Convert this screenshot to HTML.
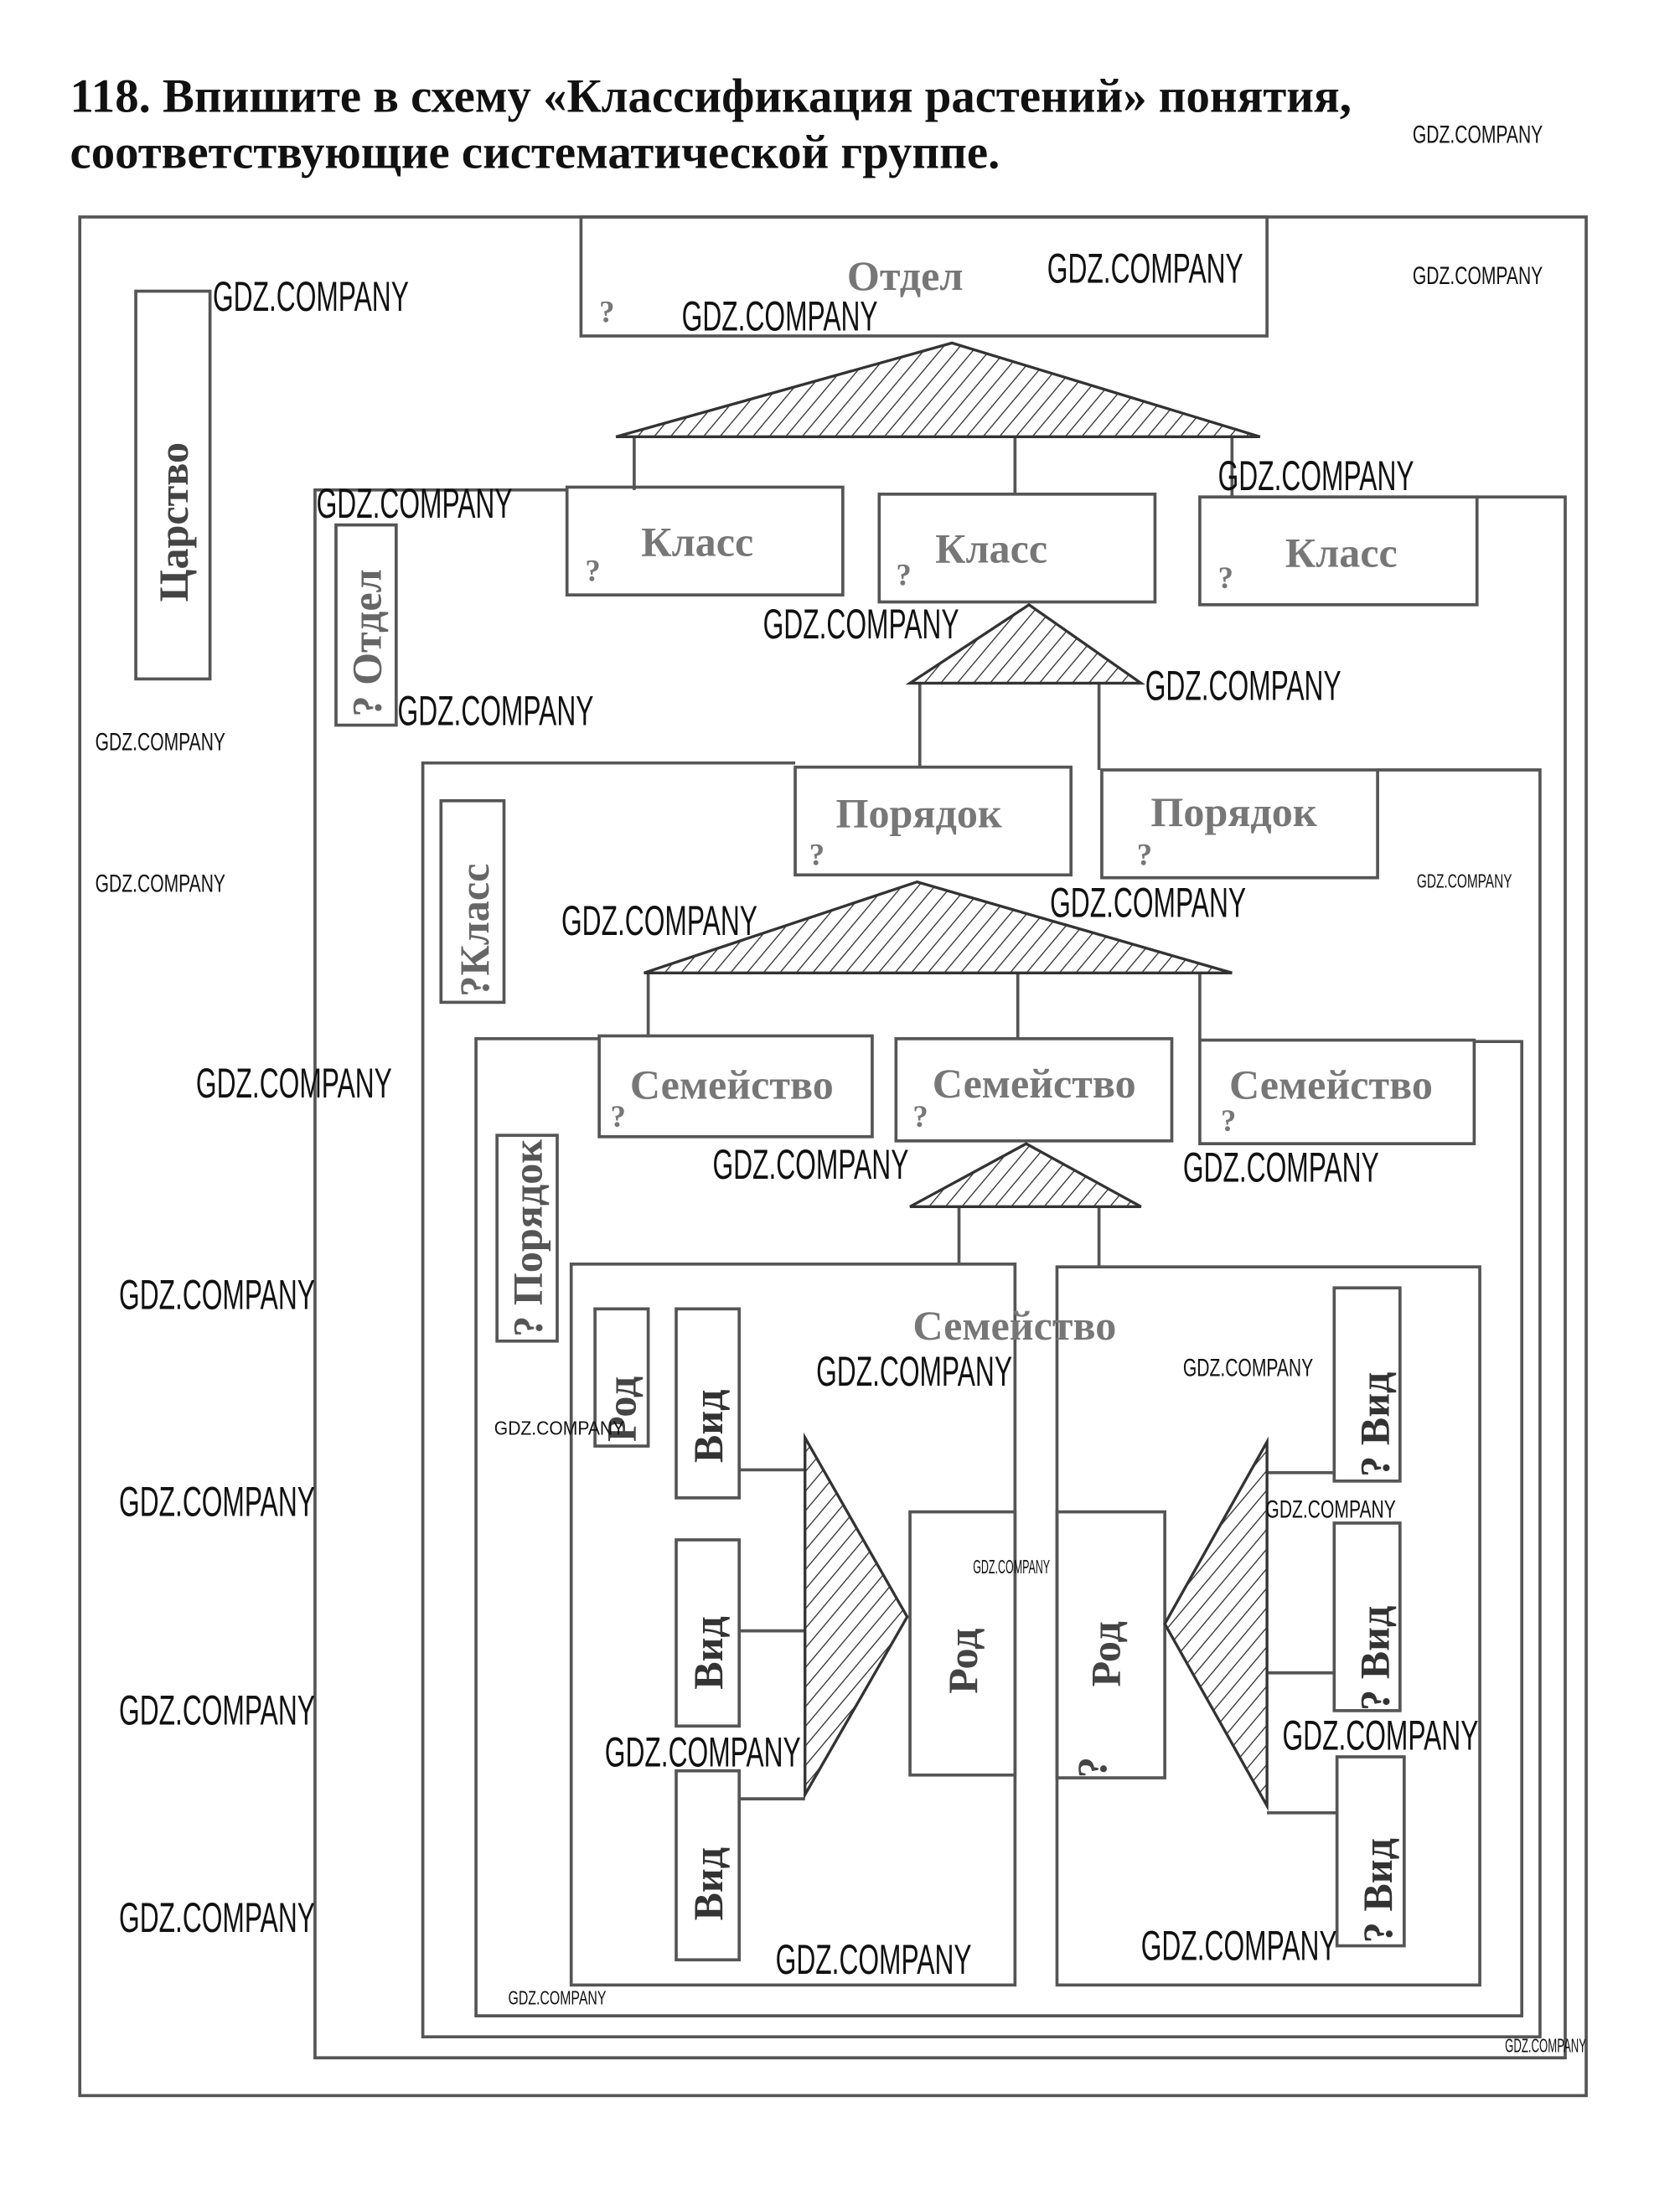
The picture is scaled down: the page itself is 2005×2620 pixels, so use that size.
<!DOCTYPE html>
<html><head><meta charset="utf-8"><style>
html,body{margin:0;padding:0;background:#fff;}
svg{display:block;}
</style></head><body>
<svg width="2005" height="2620" viewBox="0 0 1200 1568" preserveAspectRatio="none" xmlns="http://www.w3.org/2000/svg">
<defs>
<pattern id="h" width="9" height="9" patternUnits="userSpaceOnUse" patternTransform="rotate(40)">
<rect width="9" height="9" fill="#fff"/><line x1="0" y1="0" x2="0" y2="9" stroke="#333" stroke-width="1.6"/>
</pattern>
</defs>
<rect width="1200" height="1568" fill="#fff"/>
<g font-family="'Liberation Serif','Noto Serif CJK SC',serif" font-weight="bold" fill="#111">
<text x="50" y="80" font-size="34">118. Впишите в схему «Классификация растений» понятия,</text>
<text x="50" y="120" font-size="34">соответствующие систематической группе.</text>
</g>
<g fill="none" stroke="#555" stroke-width="2.2">
<!-- outer -->
<rect x="57" y="155" width="1076" height="1342"/>
<!-- second -->
<path d="M405 350 L225 350 L225 1470 L1118 1470 L1118 355 L1055 355"/>
<!-- third -->
<path d="M568 545 L302 545 L302 1455 L1100 1455 L1100 550 L984 550"/>
<!-- fourth -->
<path d="M428 742 L340 742 L340 1440 L1087 1440 L1087 744 L1053 744"/>
<!-- Отдел top -->
<rect x="415" y="155" width="490" height="85"/>
<!-- Класс -->
<rect x="405" y="348" width="197" height="77"/>
<rect x="628" y="353" width="197" height="77"/>
<rect x="857" y="355" width="198" height="77"/>
<rect x="97" y="208" width="53" height="277"/>
<rect x="240" y="375" width="43" height="143"/>
<rect x="568" y="548" width="197" height="77"/>
<rect x="787" y="550" width="197" height="77"/>
<rect x="315" y="572" width="45" height="144"/>
<rect x="428" y="740" width="195" height="72"/>
<rect x="640" y="742" width="197" height="73"/>
<rect x="857" y="743" width="196" height="74"/>
<rect x="355" y="811" width="43" height="147"/>
<rect x="408" y="903" width="317" height="515"/>
<rect x="755" y="905" width="302" height="513"/>
<rect x="425" y="935" width="38" height="98"/>
<rect x="483" y="935" width="45" height="135"/>
<rect x="483" y="1100" width="45" height="133"/>
<rect x="483" y="1265" width="45" height="135"/>
<rect x="650" y="1080" width="75" height="188"/>
<rect x="755" y="1080" width="77" height="190"/>
<rect x="953" y="920" width="47" height="138"/>
<rect x="953" y="1088" width="47" height="134"/>
<rect x="955" y="1255" width="48" height="135"/>
<!-- connectors -->
<path d="M453 312 V350 M725 312 V353 M880 312 V355"/>
<path d="M657 488 V548 M785 488 V550"/>
<path d="M463 695 V740 M727 695 V742 M857 695 V743"/>
<path d="M685 862 V903 M785 862 V905"/>
<path d="M528 1050 H575 M528 1165 H575 M528 1285 H575"/>
<path d="M905 1052 H953 M905 1195 H953 M905 1295 H955"/>
</g>
<g fill="url(#h)" stroke="#333" stroke-width="2">
<polygon points="680,245 440,312 900,312"/>
<polygon points="735,432 650,488 815,488"/>
<polygon points="655,630 460,695 880,695"/>
<polygon points="733,817 650,862 815,862"/>
<polygon points="575,1027 648,1155 575,1282"/>
<polygon points="905,1030 832,1160 905,1290"/>
</g>
<g font-family="'Liberation Serif','Noto Serif CJK SC',serif" font-weight="bold" fill="#777" font-size="30">
<text x="605" y="207">Отдел</text>
<text x="458" y="397">Класс</text>
<text x="668" y="402">Класс</text>
<text x="918" y="405">Класс</text>
<text x="597" y="591">Порядок</text>
<text x="822" y="590">Порядок</text>
<text x="450" y="785">Семейство</text>
<text x="666" y="784">Семейство</text>
<text x="878" y="785">Семейство</text>
<text x="652" y="957">Семейство</text>
<g font-size="22"><text x="428" y="230">?</text><text x="418" y="415">?</text><text x="640" y="418">?</text><text x="870" y="420">?</text><text x="578" y="618">?</text><text x="812" y="618">?</text><text x="436" y="805">?</text><text x="652" y="805">?</text><text x="872" y="808">?</text></g>
</g>
<g font-family="'Liberation Serif','Noto Serif CJK SC',serif" font-weight="bold" font-size="30">
<text transform="translate(134,430) rotate(-90)" fill="#444">Царство</text>
<text transform="translate(272,512) rotate(-90)" fill="#666">? Отдел</text>
<text transform="translate(349,712) rotate(-90)" fill="#666">?Класс</text>
<text transform="translate(387,955) rotate(-90)" fill="#555">? Порядок</text>
<text transform="translate(454,1030) rotate(-90)" fill="#444">Род</text>
<text transform="translate(516,1045) rotate(-90)" fill="#333">Вид</text>
<text transform="translate(516,1207) rotate(-90)" fill="#333">Вид</text>
<text transform="translate(516,1372) rotate(-90)" fill="#333">Вид</text>
<text transform="translate(698,1210) rotate(-90)" fill="#444">Род</text>
<text transform="translate(800,1205) rotate(-90)" fill="#444">Род</text>
<text transform="translate(790,1270) rotate(-90)" fill="#444">?</text>
<text transform="translate(992,1055) rotate(-90)" fill="#333">? Вид</text>
<text transform="translate(992,1222) rotate(-90)" fill="#333">? Вид</text>
<text transform="translate(994,1388) rotate(-90)" fill="#333">? Вид</text>
</g>
<g font-family="'Liberation Sans',sans-serif" fill="#111" font-size="30" lengthAdjust="spacingAndGlyphs">
<text x="152" y="222" textLength="140" lengthAdjust="spacingAndGlyphs">GDZ.COMPANY</text>
<text x="748" y="202" textLength="140" lengthAdjust="spacingAndGlyphs">GDZ.COMPANY</text>
<text x="487" y="236" textLength="140" lengthAdjust="spacingAndGlyphs">GDZ.COMPANY</text>
<text x="870" y="350" textLength="140" lengthAdjust="spacingAndGlyphs">GDZ.COMPANY</text>
<text x="226" y="370" textLength="140" lengthAdjust="spacingAndGlyphs">GDZ.COMPANY</text>
<text x="545" y="456" textLength="140" lengthAdjust="spacingAndGlyphs">GDZ.COMPANY</text>
<text x="818" y="500" textLength="140" lengthAdjust="spacingAndGlyphs">GDZ.COMPANY</text>
<text x="284" y="518" textLength="140" lengthAdjust="spacingAndGlyphs">GDZ.COMPANY</text>
<text x="401" y="668" textLength="140" lengthAdjust="spacingAndGlyphs">GDZ.COMPANY</text>
<text x="750" y="655" textLength="140" lengthAdjust="spacingAndGlyphs">GDZ.COMPANY</text>
<text x="140" y="784" textLength="140" lengthAdjust="spacingAndGlyphs">GDZ.COMPANY</text>
<text x="509" y="842" textLength="140" lengthAdjust="spacingAndGlyphs">GDZ.COMPANY</text>
<text x="845" y="844" textLength="140" lengthAdjust="spacingAndGlyphs">GDZ.COMPANY</text>
<text x="85" y="935" textLength="140" lengthAdjust="spacingAndGlyphs">GDZ.COMPANY</text>
<text x="583" y="990" textLength="140" lengthAdjust="spacingAndGlyphs">GDZ.COMPANY</text>
<text x="85" y="1083" textLength="140" lengthAdjust="spacingAndGlyphs">GDZ.COMPANY</text>
<text x="85" y="1232" textLength="140" lengthAdjust="spacingAndGlyphs">GDZ.COMPANY</text>
<text x="432" y="1262" textLength="140" lengthAdjust="spacingAndGlyphs">GDZ.COMPANY</text>
<text x="916" y="1250" textLength="140" lengthAdjust="spacingAndGlyphs">GDZ.COMPANY</text>
<text x="85" y="1380" textLength="140" lengthAdjust="spacingAndGlyphs">GDZ.COMPANY</text>
<text x="815" y="1400" textLength="140" lengthAdjust="spacingAndGlyphs">GDZ.COMPANY</text>
<text x="554" y="1410" textLength="140" lengthAdjust="spacingAndGlyphs">GDZ.COMPANY</text>
<g font-size="18">
<text x="1009" y="102" textLength="93" lengthAdjust="spacingAndGlyphs">GDZ.COMPANY</text>
<text x="1009" y="203" textLength="93" lengthAdjust="spacingAndGlyphs">GDZ.COMPANY</text>
<text x="68" y="536" textLength="93" lengthAdjust="spacingAndGlyphs">GDZ.COMPANY</text>
<text x="68" y="637" textLength="93" lengthAdjust="spacingAndGlyphs">GDZ.COMPANY</text>
<text x="845" y="983" textLength="93" lengthAdjust="spacingAndGlyphs">GDZ.COMPANY</text>
<text x="904" y="1084" textLength="93" lengthAdjust="spacingAndGlyphs">GDZ.COMPANY</text>
</g>
<g font-size="14">
<text x="353" y="1025" textLength="93" lengthAdjust="spacingAndGlyphs">GDZ.COMPANY</text>
<text x="1012" y="634" textLength="68" lengthAdjust="spacingAndGlyphs">GDZ.COMPANY</text>
<text x="695" y="1124" textLength="55" lengthAdjust="spacingAndGlyphs">GDZ.COMPANY</text>
<text x="363" y="1432" textLength="70" lengthAdjust="spacingAndGlyphs">GDZ.COMPANY</text>
<text x="1075" y="1466" textLength="58" lengthAdjust="spacingAndGlyphs">GDZ.COMPANY</text>
</g>
</g>
</svg>
</body></html>
